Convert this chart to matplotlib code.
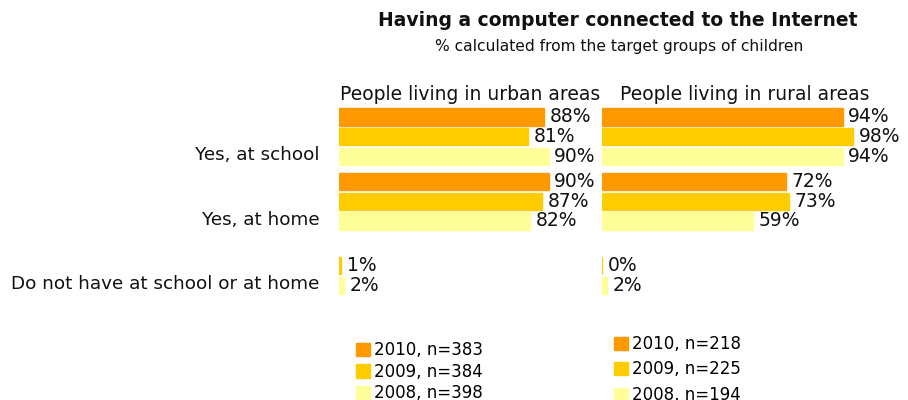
import numpy as np
import matplotlib
matplotlib.use("Agg")
import matplotlib.pyplot as plt

# survey answers, top to bottom
categories = ["Yes, at school", "Yes, at home", "Do not have at school or at home"]
years = ["2010", "2009", "2008"]

urban_2010 = [88, 90, np.nan]
urban_2009 = [81, 87, 1]
urban_2008 = [90, 82, 2]
urban_n = [383, 384, 398]

rural_2010 = [94, 72, np.nan]
rural_2009 = [98, 73, 0]
rural_2008 = [94, 59, 2]
rural_n = [218, 225, 194]

colors = ["#FF9900", "#FFCC00", "#FFFF99"]

plt.rcParams["font.family"] = "DejaVu Sans"

W, H = 908, 400
fig = plt.figure(figsize=(W / 100, H / 100), dpi=100)

# axes in pixel terms: y runs 100..305 from the top
y_top, y_bot = 100, 305
def make_axes(x0, width):
    ax = fig.add_axes([x0 / W, 1 - y_bot / H, width / W, (y_bot - y_top) / H])
    ax.set_xlim(0, 100)
    ax.set_ylim(y_bot, y_top)
    for s in ax.spines.values():
        s.set_visible(False)
    ax.set_xticks([])
    ax.tick_params(axis="y", length=0)
    return ax

ax_u = make_axes(339, 233)
ax_r = make_axes(602, 256)

group_step, bar_step, bar_h = 64.5, 19.7, 17.2
group_y = 117 + group_step * np.arange(len(categories))

def draw_panel(ax, series):
    handles = []
    for i, vals in enumerate(series):
        vals = np.asarray(vals, dtype=float)
        ypos = group_y + i * bar_step
        ok = ~np.isnan(vals)
        bars = ax.barh(ypos[ok], vals[ok], height=bar_h, color=colors[i],
                       edgecolor=colors[i], linewidth=1)
        handles.append(bars)
        for y, v in zip(ypos[ok], vals[ok]):
            ax.annotate(f"{v:.0f}%", (v, y), xytext=(4, 0), textcoords="offset points",
                        va="center", ha="left", fontsize=13.5, color="#111111",
                        annotation_clip=False)
    return handles

h_u = draw_panel(ax_u, [urban_2010, urban_2009, urban_2008])
h_r = draw_panel(ax_r, [rural_2010, rural_2009, rural_2008])

ax_u.set_yticks(group_y + 1.85 * bar_step)
ax_u.set_yticklabels(categories, fontsize=13.2, color="#111111")
ax_u.tick_params(axis="y", pad=14)
ax_r.set_yticks([])

fig.text(470 / W, 1 - 95 / H, "People living in urban areas", ha="center", va="center",
         fontsize=13.5, color="#111111")
fig.text(745 / W, 1 - 95 / H, "People living in rural areas", ha="center", va="center",
         fontsize=13.5, color="#111111")

fig.text(618 / W, 1 - 20 / H, "Having a computer connected to the Internet",
         ha="center", va="center", fontsize=13.5, fontweight="bold", color="#111111")
fig.text(619 / W, 1 - 47 / H, "% calculated from the target groups of children",
         ha="center", va="center", fontsize=11.2, color="#111111")

leg_kw = dict(loc="upper left", frameon=False, fontsize=12, handlelength=0.85,
              handleheight=0.85, handletextpad=0.2, borderaxespad=0, borderpad=0)
fig.legend(h_u, [f"{y}, n={n}" for y, n in zip(years, urban_n)],
           bbox_to_anchor=(356 / W, 1 - 341 / H), labelspacing=0.22, **leg_kw)
fig.legend(h_r, [f"{y}, n={n}" for y, n in zip(years, rural_n)],
           bbox_to_anchor=(614 / W, 1 - 335 / H), labelspacing=0.45, **leg_kw)

fig.savefig("out.png", dpi=100, facecolor="white")
